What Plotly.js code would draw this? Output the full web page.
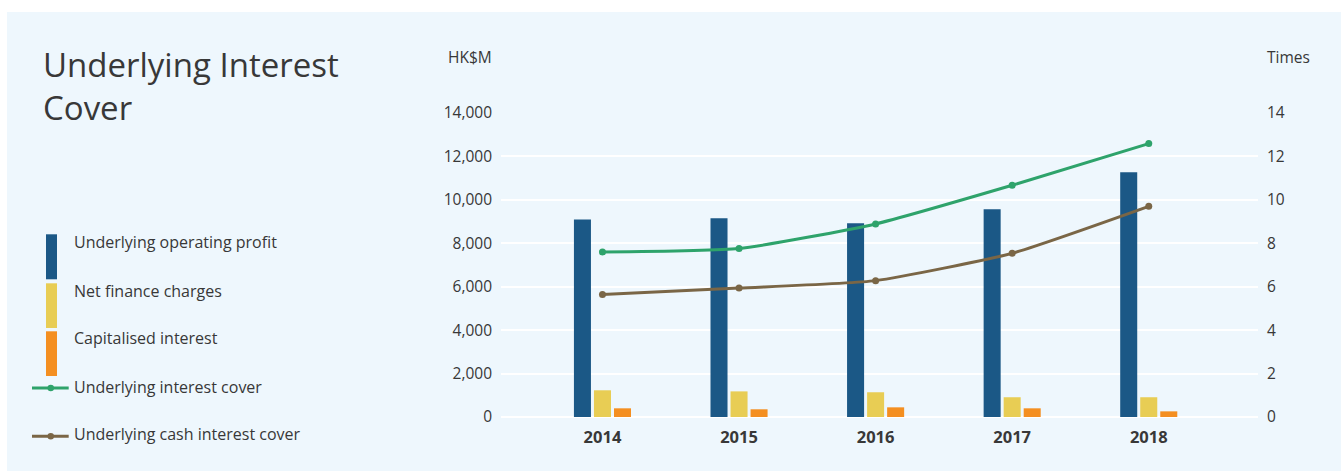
<!DOCTYPE html>
<html>
<head>
<meta charset="utf-8">
<script src="https://cdn.plot.ly/plotly-3.0.1.min.js"></script>
<style>
  html, body { margin: 0; padding: 0; background: #ffffff; width: 1341px; height: 471px; overflow: hidden; }
  #chart { position: absolute; left: 7px; top: 12px; width: 1334px; height: 459px; }
</style>
</head>
<body>
<div id="chart"></div>
<script>
// ---- data ----
const years = ['2014', '2015', '2016', '2017', '2018'];
const operatingProfit = [9100, 9150, 8920, 9570, 11270];
const netFinanceCharges = [1230, 1180, 1140, 910, 910];
const capitalisedInterest = [400, 355, 445, 400, 260];
const interestCover = [7.6, 7.76, 8.89, 10.67, 12.59];
const cashInterestCover = [5.64, 5.94, 6.28, 7.54, 9.7];
const leftTicks = [0, 2000, 4000, 6000, 8000, 10000, 12000, 14000];
const rightTicks = [0, 2, 4, 6, 8, 10, 12, 14];

const seriesNames = ['Underlying operating profit', 'Net finance charges', 'Capitalised interest',
                     'Underlying interest cover', 'Underlying cash interest cover'];
const colors = ['#1b5886', '#e8cd54', '#f48f21', '#2ea36b', '#7a6646'];

// ---- layout geometry (page pixels) ----
const DIV_L = 7, DIV_T = 12, W = 1334, H = 459;
const PL = 501, PR = 1258, PT = 112.7, PB = 416.7;
const px = x => (x - PL) / (PR - PL);
const py = y => (PB - y) / (PB - PT);

const textColor = '#383838';
const fontFam = '"Open Sans", "Noto Sans", sans-serif';

const traces = [
  { type: 'bar', x: years, y: operatingProfit, name: seriesNames[0], marker: { color: colors[0] } },
  { type: 'bar', x: years, y: netFinanceCharges, name: seriesNames[1], marker: { color: colors[1] } },
  { type: 'bar', x: years, y: capitalisedInterest, name: seriesNames[2], marker: { color: colors[2] } },
  { type: 'scatter', mode: 'lines+markers', x: years, y: interestCover, yaxis: 'y2', name: seriesNames[3],
    line: { color: colors[3], width: 3, shape: 'spline', smoothing: 0.5 }, marker: { color: colors[3], size: 7 } },
  { type: 'scatter', mode: 'lines+markers', x: years, y: cashInterestCover, yaxis: 'y2', name: seriesNames[4],
    line: { color: colors[4], width: 3, shape: 'spline', smoothing: 0.5 }, marker: { color: colors[4], size: 7 } }
];

// custom legend
const shapes = [];
const annotations = [];
const legendBars = [[234, 279], [283, 327.7], [331, 375.7]];
const legendTextY = [241.7, 290.7, 338, 386.7, 434];
legendBars.forEach((b, i) => {
  shapes.push({ type: 'rect', xref: 'paper', yref: 'paper', x0: px(46), x1: px(57), y0: py(b[1]), y1: py(b[0]),
    fillcolor: colors[i], line: { width: 0 } });
});
[387.7, 436].forEach((yy, j) => {
  const c = colors[3 + j];
  shapes.push({ type: 'line', xref: 'paper', yref: 'paper', x0: px(32), x1: px(68.7), y0: py(yy), y1: py(yy),
    line: { color: c, width: 3 } });
  shapes.push({ type: 'circle', xref: 'paper', yref: 'paper', x0: px(47.5), x1: px(54), y0: py(yy + 3.25), y1: py(yy - 3.25),
    fillcolor: c, line: { width: 0 } });
});
seriesNames.forEach((n, i) => {
  annotations.push({ xref: 'paper', yref: 'paper', x: px(72), y: py(legendTextY[i]), xanchor: 'left', yanchor: 'middle',
    text: n, showarrow: false, font: { family: fontFam, size: 16, color: textColor } });
});

// title
annotations.push({ xref: 'paper', yref: 'paper', x: px(41), y: py(64), xanchor: 'left', yanchor: 'middle',
  text: 'Underlying Interest', showarrow: false, font: { family: fontFam, size: 33, color: textColor } });
annotations.push({ xref: 'paper', yref: 'paper', x: px(41), y: py(107), xanchor: 'left', yanchor: 'middle',
  text: 'Cover', showarrow: false, font: { family: fontFam, size: 33, color: textColor } });
// axis unit labels
annotations.push({ xref: 'paper', yref: 'paper', x: px(494), y: py(56.5), xanchor: 'right', yanchor: 'middle',
  text: 'HK$M', showarrow: false, font: { family: fontFam, size: 15.5, color: textColor } });
annotations.push({ xref: 'paper', yref: 'paper', x: px(1265), y: py(56.5), xanchor: 'left', yanchor: 'middle',
  text: 'Times', showarrow: false, font: { family: fontFam, size: 15.5, color: textColor } });

const layout = {
  width: W, height: H,
  margin: { l: PL - DIV_L, r: W - (PR - DIV_L), t: PT - DIV_T, b: H - (PB - DIV_T), pad: 0 },
  paper_bgcolor: '#eef7fd', plot_bgcolor: '#eef7fd',
  showlegend: false,
  barmode: 'group', bargap: 0.56, bargroupgap: 0.15,
  font: { family: fontFam, color: textColor },
  xaxis: {
    type: 'category', range: [-0.743, 4.8], showgrid: false, zeroline: false, showline: false,
    ticks: '', tickfont: { family: fontFam, size: 16.5, color: textColor, weight: 'bold' },
    ticklabelstandoff: 8
  },
  yaxis: {
    range: [0, 14000], tickvals: leftTicks, ticktext: leftTicks.map(v => v.toLocaleString('en-US')),
    showgrid: true, gridcolor: '#ffffff', gridwidth: 2, zeroline: true, zerolinecolor: '#ffffff', zerolinewidth: 2,
    showline: false, ticks: '', ticklabelstandoff: 8,
    tickfont: { family: fontFam, size: 15.5, color: textColor }
  },
  yaxis2: {
    overlaying: 'y', side: 'right', range: [0, 14], tickvals: rightTicks,
    showgrid: false, zeroline: false, showline: false, ticks: '', ticklabelstandoff: 8,
    tickfont: { family: fontFam, size: 15.5, color: textColor }
  },
  shapes: shapes,
  annotations: annotations
};

Plotly.newPlot('chart', traces, layout, { staticPlot: true, displayModeBar: false });
</script>
</body>
</html>
